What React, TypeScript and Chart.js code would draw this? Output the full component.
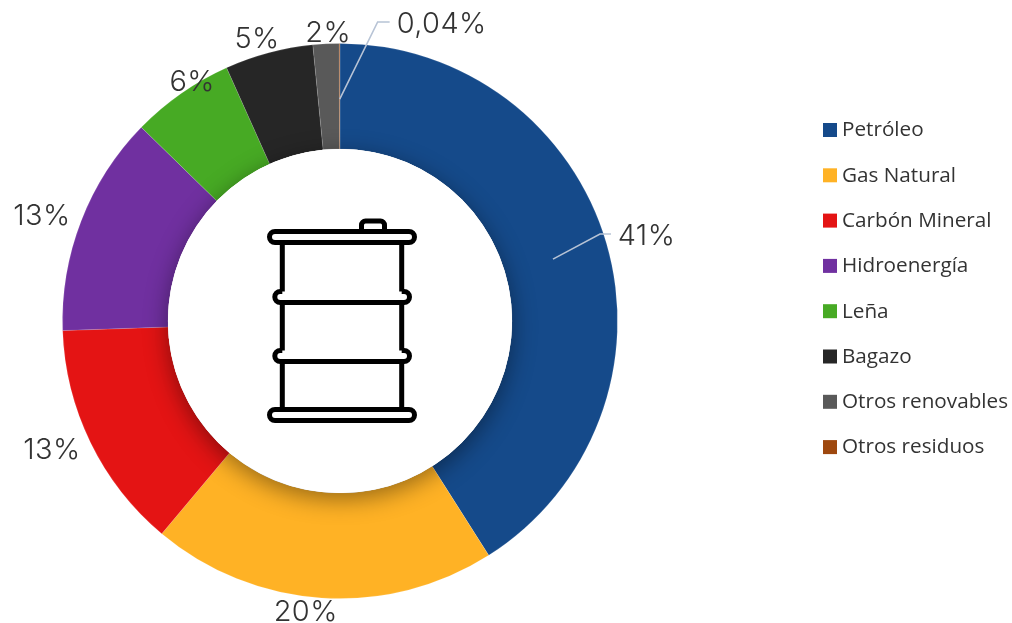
import React, { useEffect, useRef } from "react";
import { Chart, registerables } from "chart.js";

Chart.register(...registerables);

const categories = ["Petróleo", "Gas Natural", "Carbón Mineral", "Hidroenergía", "Leña", "Bagazo", "Otros renovables", "Otros residuos"];
const values = [41.0, 20.1, 13.35, 12.85, 6.0, 5.14, 1.52, 0.04];
const valueLabels = ["41%", "20%", "13%", "13%", "6%", "5%", "2%", "0,04%"];
const colors = ["#154a8a", "#ffb225", "#e41414", "#7030a0", "#47aa24", "#262626", "#595959", "#9e480e"];

// label placement relative to the outer edge of each slice's mid-point
const labelOffsets: [number, number][] = [[40, -8.6], [-16, 13], [-38.8, 6.4], [-39.3, -5.6], [11, -12.5], [-11.7, -15], [2.2, -11.8], [102, -20.5]];
// leader lines: index of slice and horizontal gap from the label centre to the elbow / line end
const leaders: { index: number; elbowDx: number; endDx: number }[] = [
  { index: 0, elbowDx: -46.5, endDx: -35.5 },
  { index: 7, elbowDx: -64, endDx: -52 },
];

const roundRect = (ctx: CanvasRenderingContext2D, x: number, y: number, w: number, h: number, r: number) => {
  ctx.beginPath();
  ctx.roundRect(x, y, w, h, r);
  ctx.stroke();
};

const decorations = {
  id: "decorations",
  afterDatasetsDraw(chart: any) {
    const { ctx } = chart;
    const arcs = chart.getDatasetMeta(0).data;
    const { x: cx, y: cy, innerRadius, outerRadius } = arcs[0];

    // soft shadow of the hole on the ring
    ctx.save();
    ctx.beginPath();
    ctx.arc(cx, cy, outerRadius, 0, Math.PI * 2);
    ctx.clip();
    ctx.shadowColor = "rgba(0,0,0,0.42)";
    ctx.shadowBlur = 24;
    ctx.shadowOffsetY = 6;
    ctx.fillStyle = "#fff";
    ctx.beginPath();
    ctx.arc(cx, cy, innerRadius, 0, Math.PI * 2);
    ctx.fill();
    ctx.restore();
    ctx.fillStyle = "#fff";
    ctx.beginPath();
    ctx.arc(cx, cy, innerRadius, 0, Math.PI * 2);
    ctx.fill();

    const labelPos = arcs.map((arc: any, i: number) => {
      const mid = (arc.startAngle + arc.endAngle) / 2;
      return {
        mid,
        x: cx + Math.cos(mid) * outerRadius + labelOffsets[i][0],
        y: cy + Math.sin(mid) * outerRadius + labelOffsets[i][1],
      };
    });

    // leader lines
    ctx.save();
    ctx.strokeStyle = "#b7c3d5";
    ctx.lineWidth = 1.6;
    leaders.forEach(({ index, elbowDx, endDx }) => {
      const p = labelPos[index];
      const r = (innerRadius + outerRadius) / 2 - 3;
      const ly = p.y - 1;
      ctx.beginPath();
      ctx.moveTo(cx + Math.cos(p.mid) * r, cy + Math.sin(p.mid) * r);
      ctx.lineTo(p.x + elbowDx, ly);
      ctx.lineTo(p.x + endDx, ly);
      ctx.stroke();
    });
    ctx.restore();

    // value labels
    ctx.save();
    ctx.fillStyle = "#333333";
    ctx.font = "300 29px Inter";
    (ctx as any).letterSpacing = "0.4px";
    ctx.textAlign = "center";
    ctx.textBaseline = "middle";
    valueLabels.forEach((t, i) => ctx.fillText(t, labelPos[i].x, labelPos[i].y + 1.5));
    ctx.restore();

    // legend
    ctx.save();
    ctx.font = "20.7px 'Open Sans'";
    ctx.textAlign = "left";
    ctx.textBaseline = "middle";
    categories.forEach((c, i) => {
      const y = 130 + i * 45.3;
      ctx.fillStyle = colors[i];
      ctx.fillRect(823, y - 7, 14, 14);
      ctx.fillStyle = "#333333";
      ctx.fillText(c, 842, y + 0.5);
    });
    ctx.restore();

    // barrel icon
    ctx.save();
    ctx.translate(cx, cy);
    ctx.strokeStyle = "#000";
    ctx.lineWidth = 5;
    ctx.lineCap = "butt";
    roundRect(ctx, -70.5, -89.5, 145, 11, 5.5);
    roundRect(ctx, -70.5, 88.5, 145, 11, 5.5);
    // cap
    ctx.beginPath();
    ctx.moveTo(21.5, -89);
    ctx.lineTo(21.5, -96);
    ctx.arcTo(21.5, -100, 25.5, -100, 4);
    ctx.lineTo(40.5, -100);
    ctx.arcTo(44.5, -100, 44.5, -96, 4);
    ctx.lineTo(44.5, -89);
    ctx.stroke();
    // hoops and sides
    const bands = [-24, 35];
    const sides = [-57.7, 61.7];
    for (const x of sides) {
      ctx.beginPath();
      ctx.moveTo(x, -77);
      ctx.lineTo(x, bands[0] - 5.5);
      ctx.moveTo(x, bands[0] + 5.5);
      ctx.lineTo(x, bands[1] - 5.5);
      ctx.moveTo(x, bands[1] + 5.5);
      ctx.lineTo(x, 88);
      ctx.stroke();
    }
    for (const y of bands) {
      ctx.beginPath();
      ctx.moveTo(-57.7, y - 5.5);
      ctx.lineTo(-59.7, y - 5.5);
      ctx.arc(-59.7, y, 5.5, -Math.PI / 2, Math.PI / 2, true);
      ctx.lineTo(64, y + 5.5);
      ctx.arc(64, y, 5.5, Math.PI / 2, -Math.PI / 2, true);
      ctx.lineTo(61.7, y - 5.5);
      ctx.stroke();
    }
    ctx.restore();
  },
};

export default function App() {
  const ref = useRef<HTMLCanvasElement>(null);
  useEffect(() => {
    const chart = new Chart(ref.current!, {
      type: "doughnut",
      data: {
        labels: categories,
        datasets: [{ data: values, backgroundColor: colors, borderWidth: 0.5, borderColor: "rgba(255,255,255,0.25)" }],
      },
      options: {
        animation: false,
        responsive: false,
        cutout: "62%",
        radius: 277.5,
        layout: { padding: { top: 19, right: 332 } },
        plugins: { legend: { display: false }, tooltip: { enabled: false } },
      },
      plugins: [decorations],
    });
    return () => chart.destroy();
  }, []);
  return <canvas ref={ref} width={1012} height={623} style={{ position: "fixed", left: 0, top: 0, display: "block" }} />;
}
